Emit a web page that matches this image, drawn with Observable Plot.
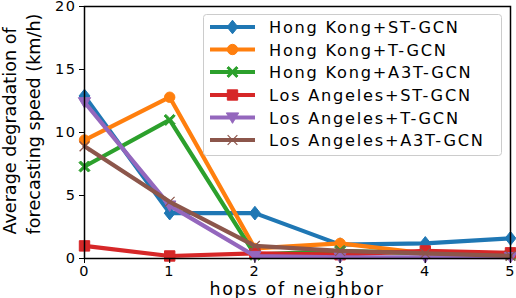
<!DOCTYPE html>
<html>
<head>
<meta charset="utf-8">
<script src="https://cdn.jsdelivr.net/npm/d3@7"></script>
<script src="https://cdn.jsdelivr.net/npm/@observablehq/plot@0.6"></script>
<style>
  html, body { margin: 0; padding: 0; background: #fff; }
  #chart { position: relative; width: 516px; height: 298px; overflow: hidden; }
</style>
</head>
<body>
<div id="chart"></div>
<script>
// ---- data ----
const hops = [0, 1, 2, 3, 4, 5];
const seriesNames = [
  "Hong Kong+ST-GCN",
  "Hong Kong+T-GCN",
  "Hong Kong+A3T-GCN",
  "Los Angeles+ST-GCN",
  "Los Angeles+T-GCN",
  "Los Angeles+A3T-GCN"
];
const hkST   = [12.9, 3.6, 3.6, 1.1, 1.2, 1.6];
const hkT    = [9.4, 12.8, 0.8, 1.2, 0.4, 0.3];
const hkA3T  = [7.3, 11.0, 0.3, 0.6, 0.4, 0.3];
const laST   = [1.0, 0.2, 0.4, 0.3, 0.6, 0.45];
const laT    = [12.4, 4.2, 0.2, 0.1, 0.1, 0.1];
const laA3T  = [8.9, 4.5, 1.0, 0.6, 0.4, 0.2];
const xTicks = [0, 1, 2, 3, 4, 5];
const yTicks = [0, 5, 10, 15, 20];
const colors = ["#1f77b4", "#ff7f0e", "#2ca02c", "#d62728", "#9467bd", "#8c564b"];

const values = [hkST, hkT, hkA3T, laST, laT, laA3T];
const rows = [];
seriesNames.forEach((s, i) => hops.forEach((h, j) => rows.push({series: s, hop: h, v: values[i][j]})));

// ---- custom symbols (size = pi*r^2) ----
const rOf = size => Math.sqrt(size / Math.PI);
const symDiamond = {draw(c, size) { const r = rOf(size) * 1.05; c.moveTo(0, -r); c.lineTo(r * 0.8, 0); c.lineTo(0, r); c.lineTo(-r * 0.8, 0); c.closePath(); }};
const symCircle = {draw(c, size) { const r = rOf(size) * 0.8; c.moveTo(r, 0); c.arc(0, 0, r, 0, 2 * Math.PI); c.closePath(); }};
const symXFill = {draw(c, size) {
  const r = rOf(size) * 0.85, w = r * 0.3;
  const pts = [[-r, -r + w], [-r + w, -r], [0, -w], [r - w, -r], [r, -r + w], [w, 0], [r, r - w], [r - w, r], [0, w], [-r + w, r], [-r, r - w], [-w, 0]];
  c.moveTo(pts[0][0], pts[0][1]); for (let k = 1; k < pts.length; k++) c.lineTo(pts[k][0], pts[k][1]); c.closePath();
}};
const symSquare = {draw(c, size) { const r = rOf(size) * 0.8; c.rect(-r, -r, 2 * r, 2 * r); }};
const symTriDown = {draw(c, size) { const r = rOf(size) * 0.95; c.moveTo(-r, -r * 0.75); c.lineTo(r, -r * 0.75); c.lineTo(0, r * 0.95); c.closePath(); }};
const symX = {draw(c, size) { const r = rOf(size) * 0.75; c.moveTo(-r, -r); c.lineTo(r, r); c.moveTo(r, -r); c.lineTo(-r, r); }};
const symbols = [symDiamond, symCircle, symXFill, symSquare, symTriDown, symX];

const marks = [];
seriesNames.forEach((s, i) => {
  const d = rows.filter(r => r.series === s);
  marks.push(Plot.line(d, {x: "hop", y: "v", stroke: colors[i], strokeWidth: 4.2, strokeLinejoin: "miter"}));
  const isLine = i === 5;
  marks.push(Plot.dot(d, {x: "hop", y: "v", symbol: () => symbols[i], r: 6.5,
    fill: isLine ? "none" : colors[i], stroke: colors[i], strokeWidth: isLine ? 1.2 : 1}));
});

const W = 516, H = 298;
const plot = Plot.plot({
  width: W, height: H,
  marginLeft: 84, marginRight: 6, marginTop: 6, marginBottom: 40,
  style: {fontFamily: "DejaVu Sans", fontSize: "14.5px", color: "black", background: "white", overflow: "visible"},
  x: {domain: [0, 5], ticks: xTicks, tickSize: 5, tickPadding: 2, label: null, tickFormat: d => String(d)},
  y: {domain: [0, 20], ticks: yTicks, tickSize: 5, tickPadding: 3, label: null, tickFormat: d => String(d)},
  symbol: {type: "identity"},
  marks: [
    ...marks,
    Plot.frame({stroke: "black", strokeWidth: 1.5}),
    Plot.axisX({ticks: xTicks, tickSize: 5, tickPadding: 2, label: null, fontSize: 14.5, tickFormat: d => String(d)}),
    Plot.axisY({ticks: yTicks, tickSize: 5, tickPadding: 3, label: null, fontSize: 14.5, tickFormat: d => String(d)})
  ]
});

document.getElementById("chart").appendChild(plot);

const svg = d3.select(plot);
svg.selectAll("[aria-label='x-axis tick label'] text, [aria-label='y-axis tick label'] text")
  .style("letter-spacing", "1.5px");

// axis labels
svg.append("text")
  .attr("x", 297).attr("y", 295)
  .attr("text-anchor", "middle")
  .style("font-family", "DejaVu Sans").style("font-size", "17.5px").style("letter-spacing", "1.7px")
  .attr("fill", "black")
  .text("hops of neighbor");
svg.append("text")
  .attr("transform", "translate(16,131) rotate(-90)")
  .attr("text-anchor", "middle")
  .style("font-family", "DejaVu Sans").style("font-size", "17.6px")
  .attr("fill", "black")
  .text("Average degradation of");
svg.append("text")
  .attr("transform", "translate(39.5,124) rotate(-90)")
  .attr("text-anchor", "middle")
  .style("font-family", "DejaVu Sans").style("font-size", "17.6px")
  .attr("fill", "black")
  .text("forecasting speed (km/h)");

// legend
const lg = svg.append("g").attr("aria-label", "legend");
lg.append("rect")
  .attr("x", 203.5).attr("y", 14.5).attr("width", 298).attr("height", 141)
  .attr("rx", 3).attr("ry", 3)
  .style("fill", "white").style("fill-opacity", 0.8)
  .style("stroke", "#cccccc").style("stroke-width", "1px");
const rowY = [27, 49.5, 72, 95, 117.5, 140];
seriesNames.forEach((s, i) => {
  const y = rowY[i];
  lg.append("line").attr("x1", 210).attr("x2", 255).attr("y1", y).attr("y2", y)
    .attr("stroke", colors[i]).attr("stroke-width", 4.2);
  const p = d3.path(); symbols[i].draw(p, Math.PI * 42);
  lg.append("path").attr("d", p.toString()).attr("transform", `translate(232.5,${y})`)
    .attr("fill", i === 5 ? "none" : colors[i]).attr("stroke", colors[i]).attr("stroke-width", i === 5 ? 1.2 : 1);
  lg.append("text").attr("x", 269).attr("y", y + 6)
    .attr("text-anchor", "start")
    .style("font-family", "DejaVu Sans").style("font-size", "16.2px").style("letter-spacing", "1.75px")
    .attr("fill", "black").text(s);
});
</script>
</body>
</html>
